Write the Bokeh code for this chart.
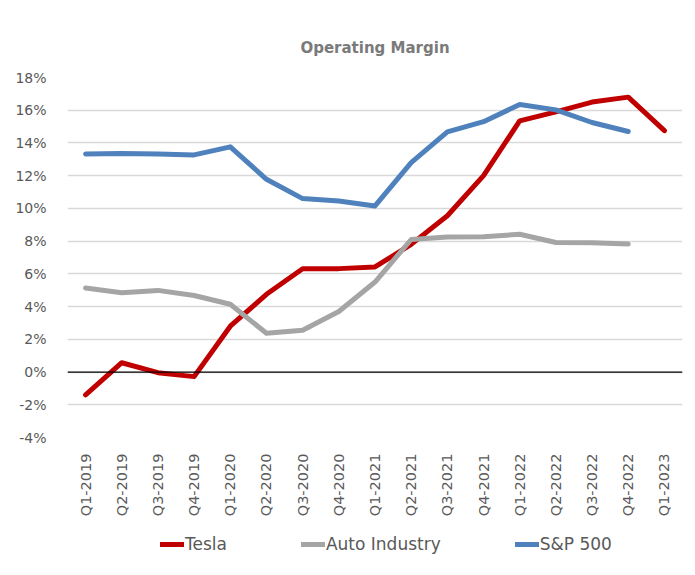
from bokeh.plotting import figure
from bokeh.models import Span, Legend, LegendItem, FixedTicker, PrintfTickFormatter, FactorRange, Range1d
from bokeh.layouts import column
from bokeh.embed import file_html
from bokeh.resources import INLINE
from math import pi

quarters = ["Q1-2019", "Q2-2019", "Q3-2019", "Q4-2019",
            "Q1-2020", "Q2-2020", "Q3-2020", "Q4-2020",
            "Q1-2021", "Q2-2021", "Q3-2021", "Q4-2021",
            "Q1-2022", "Q2-2022", "Q3-2022", "Q4-2022", "Q1-2023"]
nan = float("nan")
tesla = [-1.4, 0.57, -0.04, -0.28, 2.8, 4.75, 6.31, 6.32, 6.42, 7.8, 9.55, 12.0, 15.35, 15.9, 16.5, 16.8, 14.75]
auto_industry = [5.13, 4.85, 4.99, 4.68, 4.14, 2.37, 2.56, 3.7, 5.5, 8.1, 8.26, 8.27, 8.42, 7.92, 7.9, 7.82, nan]
sp500 = [13.33, 13.36, 13.32, 13.27, 13.76, 11.78, 10.6, 10.45, 10.15, 12.8, 14.68, 15.3, 16.35, 16.02, 15.25, 14.7, nan]
y_ticks = [-4, -2, 0, 2, 4, 6, 8, 10, 12, 14, 16, 18]
series_names = ["Tesla", "Auto Industry", "S&P 500"]
series_colors = ["#C00000", "#A5A5A5", "#4F81BD"]

FONT = "DejaVu Sans"
GRAY = "#595959"

p = figure(width=687, height=520, x_range=FactorRange(*quarters, range_padding=0),
           y_range=Range1d(-4, 18), output_backend="svg", toolbar_location=None,
           min_border_left=67, min_border_right=5, min_border_top=77, min_border_bottom=83)
p.outline_line_color = None
p.background_fill_color = "white"
p.border_fill_color = "white"

p.title.text = "Operating Margin"
p.title.align = "center"
p.title.text_font = FONT
p.title.text_font_size = "15px"
p.title.text_font_style = "bold"
p.title.text_color = "#7a7a7a"
p.title.standoff = 42
p.title.offset = -3

p.xgrid.grid_line_color = None
p.ygrid.grid_line_color = "#d9d9d9"
p.ygrid.grid_line_width = 1.5

p.yaxis.ticker = FixedTicker(ticks=y_ticks)
p.yaxis.formatter = PrintfTickFormatter(format="%d%%")
p.yaxis.axis_line_color = None
p.yaxis.major_tick_line_color = None
p.yaxis.minor_tick_line_color = None
p.yaxis.major_label_text_font = FONT
p.yaxis.major_label_text_font_size = "14px"
p.yaxis.major_label_text_color = GRAY
p.yaxis.major_label_standoff = 15

p.xaxis.axis_line_color = None
p.xaxis.major_tick_line_color = None
p.xaxis.major_label_orientation = pi / 2
p.xaxis.major_label_text_font = FONT
p.xaxis.major_label_text_font_size = "14.5px"
p.xaxis.major_label_text_color = GRAY
p.xaxis.major_label_standoff = 10

p.add_layout(Span(location=0, dimension="width", line_color="black", line_width=1.2))

data = [tesla, auto_industry, sp500]
for vals, col in zip(data, series_colors):
    p.line(quarters, vals, line_color=col, line_width=5, line_cap="round", line_join="round")

# legend strip below the chart
lg = figure(width=687, height=45, x_range=Range1d(0, 1), y_range=Range1d(0, 1),
            x_axis_type=None, y_axis_type=None, output_backend="svg", toolbar_location=None,
            min_border=0)
lg.outline_line_color = None
lg.xgrid.grid_line_color = None
lg.ygrid.grid_line_color = None
items = []
for name, col in zip(series_names, series_colors):
    r = lg.line([nan, nan], [nan, nan], line_color=col, line_width=5, line_cap="round")
    items.append(LegendItem(label=name, renderers=[r]))
legend = Legend(items=items, orientation="horizontal", location=(93, 11),
                label_text_font=FONT, label_text_font_size="17px", label_text_color=GRAY,
                glyph_width=24, glyph_height=20, label_standoff=1, spacing=74, padding=0, margin=0,
                border_line_color=None, background_fill_alpha=0)
lg.add_layout(legend, "center")

open("out.html", "w").write(file_html(column(p, lg, spacing=0), INLINE))
